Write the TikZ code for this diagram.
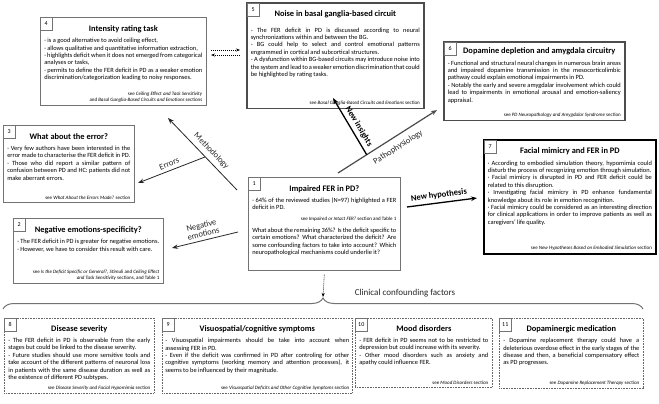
\documentclass[tikz,border=0pt]{standalone}
\usepackage{fontspec}
\setmainfont{Carlito}
\usetikzlibrary{arrows.meta,calc,decorations.pathreplacing}
\hyphenpenalty=10000
\tolerance=9999
\emergencystretch=4pt
%% Title of a box, then the body font.
\newcommand{\boxHead}[2][5pt]{\vspace*{#1}{\centering\fontsize{8.4}{9.5}\selectfont\bfseries #2\par}\vspace{4pt}\fontsize{6.4}{7.4}\selectfont}
%% Reference line at the bottom of a box.
\newcommand{\boxSee}[1]{\par\vfill{\raggedleft\fontsize{5}{6.2}\selectfont #1\par}}
\begin{document}
\begin{tikzpicture}[x=1pt,y=-1pt,%%
  boxStyle/.style={draw=black!55,fill=white,inner xsep=4pt,inner ysep=3pt,line width=0.6pt},%%
  thickBoxStyle/.style={boxStyle,draw=black!70,line width=1.6pt},%%
  mainBoxStyle/.style={boxStyle,draw=black,line width=1.8pt},%%
  dotBoxStyle/.style={boxStyle,draw=black!60,dash pattern=on 0.8pt off 0.8pt},%%
  numStyle/.style={draw=black!55,fill=white,line width=0.5pt,minimum width=12pt,minimum height=13pt,inner sep=1pt,font=\fontsize{6}{7}\selectfont},%%
  arrowStyle/.style={-{Stealth[length=6pt,width=4.5pt]},line width=0.8pt,draw=black!85},%%
  boldArrowStyle/.style={arrowStyle,line width=1.3pt,draw=black},%%
  dashArrowStyle/.style={-{Stealth[length=4pt,width=3pt]},dash pattern=on 1pt off 1pt,line width=0.6pt},%%
  labelStyle/.style={sloped,text=black!85,font=\fontsize{8.5}{9}\selectfont},%%
  boldLabelStyle/.style={sloped,font=\fontsize{8.5}{9}\selectfont\bfseries},%%
  braceStyle/.style={decorate,decoration={brace,amplitude=11pt},line width=1pt,draw=black!55}%%
]
\useasboundingbox (0,0) rectangle (659,404);
%%
%% Box 4: intensity rating task.
\node[boxStyle,anchor=north west] (boxFour) at (40,17) {\parbox[t][81pt][s]{158pt}{%
  \boxHead{Intensity rating task}
  · is a good alternative to avoid ceiling effect,\par
  · allows qualitative and quantitative information extraction,\par
  · highlights deficit when it does not emerged from categorical analyses or tasks,\par
  · permits to define the FER deficit in PD as a weaker emotion discrimination/categorization leading to noisy responses.
  \boxSee{see \textit{Ceiling Effect and Task Sensitivity}\\ and \textit{Basal Ganglia-Based Circuits and Emotions} sections}}};
\node[numStyle,anchor=north west] (numFour) at (boxFour.north west) {4};
%%
%% Box 5: noise in basal ganglia.
\node[thickBoxStyle,anchor=north west] (boxFive) at (246,2) {\parbox[t][99pt][s]{169pt}{%
  \boxHead{Noise in basal ganglia-based circuit}
  \vspace{4pt}
  - The FER deficit in PD is discussed according to neural synchronizations within and between the BG.\par
  - BG could help to select and control emotional patterns engrammed in cortical and subcortical structures.\par
  - A dysfunction within BG-based circuits may introduce noise into the system and lead to a weaker emotion discrimination that could be highlighted by rating tasks.
  \boxSee{see \textit{Basal Ganglia-Based Circuits and Emotions} section}}};
\node[numStyle,anchor=north west] (numFive) at ([shift={(0.8pt,-0.8pt)}]boxFive.north west) {5};
%%
%% Box 6: dopamine and amygdala.
\node[thickBoxStyle,anchor=north west] (boxSix) at (443,41) {\parbox[t][72pt][s]{173pt}{%
  \boxHead[3pt]{\hspace*{10pt}Dopamine depletion and amygdala circuitry}
  - Functional and structural neural changes in numerous brain areas and impaired dopamine transmission in the mesocorticolimbic pathway could explain emotional impairments in PD.\par
  - Notably the early and severe amygdalar involvement which could lead to impairments in emotional arousal and emotion-saliency appraisal.
  \boxSee{see \textit{PD Neuropathology and Amygdalar Syndrome} section}}};
\node[numStyle,anchor=north west] (numSix) at ([shift={(0.8pt,-0.8pt)}]boxSix.north west) {6};
%%
%% Box 3: the error.
\node[boxStyle,anchor=north west] (boxThree) at (3,125) {\parbox[t][71pt][s]{123pt}{%
  \boxHead{What about the error?}
  · Very few authors have been interested in the error made to characterise the FER deficit in PD.\par
  · Those who did report a similar pattern of confusion between PD and HC: patients did not make aberrant errors.
  \boxSee{see \textit{What About the Errors Made?} section}}};
\node[numStyle,anchor=north west] (numThree) at (boxThree.north west) {3};
%%
%% Box 2: negative emotions.
\node[boxStyle,anchor=north west] (boxTwo) at (13,218) {\parbox[t][58pt][s]{142pt}{%
  \boxHead{Negative emotions-specificity?}
  · The FER deficit in PD is greater for negative emotions.\par
  · However, we have to consider this result with care.
  \boxSee{see \textit{Is the Deficit Specific or General?}, \textit{Stimuli} and \textit{Ceiling Effect\\ and Task Sensitivity} sections, and Table 1}}};
\node[numStyle,anchor=north west] (numTwo) at (boxTwo.north west) {2};
%%
%% Box 1: the central question.
\node[boxStyle,anchor=north west] (boxOne) at (248,177) {\parbox[t][87pt][s]{144pt}{%
  \boxHead{Impaired FER in PD?}
  · 64\% of the reviewed studies (N=97) highlighted a FER deficit in PD.\par
  \vspace{4pt}
  {\raggedleft\fontsize{5}{6.2}\selectfont see \textit{Impaired or Intact FER?} section and Table 1\par}
  \vspace{5pt}
  What about the remaining 36\%? Is the deficit specific to certain emotions? What characterized the deficit? Are some confounding factors to take into account? Which neuropathological mechanisms could underlie it?\par
  \vfill}};
\node[numStyle,anchor=north west] (numOne) at (boxOne.north west) {1};
%%
%% Box 7: facial mimicry.
\node[mainBoxStyle,anchor=north west] (boxSeven) at (483,139) {\parbox[t][107pt][s]{164pt}{%
  \boxHead{Facial mimicry and FER in PD}
  · According to embodied simulation theory, hypomimia could disturb the process of recognizing emotion through simulation.\par
  · Facial mimicry is disrupted in PD and FER deficit could be related to this disruption.\par
  · Investigating facial mimicry in PD enhance fundamental knowledge about its role in emotion recognition.\par
  · Facial mimicry could be considered as an interesting direction for clinical applications in order to improve patients as well as caregivers' life quality.
  \boxSee{see \textit{New Hypotheses Based on Embodied Simulation} section}}};
\node[numStyle,anchor=north west] (numSeven) at ([shift={(0.9pt,-0.9pt)}]boxSeven.north west) {7};
%%
%% The clinical confounding factors.
\node[dotBoxStyle,anchor=north west] (boxEight) at (4,318) {\parbox[t][68pt][s]{142pt}{%
  \boxHead[4pt]{Disease severity}
  - The FER deficit in PD is observable from the early stages but could be linked to the disease severity.\par
  - Future studies should use more sensitive tools and take account of the different patterns of neuronal loss in patients with the same disease duration as well as the existence of different PD subtypes.
  \boxSee{see \textit{Disease Severity and Facial Hypomimia} section}}};
\node[numStyle,anchor=north west] (numEight) at (boxEight.north west) {8};
%%
\node[dotBoxStyle,inner xsep=3pt,anchor=north west] (boxNine) at (162,318) {\parbox[t][68pt][s]{184pt}{%
  \boxHead[4pt]{Visuospatial/cognitive symptoms}
  - Visuospatial impairments should be take into account when\linebreak assessing FER in PD.\par
  - Even if the deficit was confirmed in PD after controling for other cognitive symptoms (working memory and attention processes), it seems to be influenced by their magnitude.
  \boxSee{see \textit{Visuospatial Deficits and Other Cognitive Symptoms} section}}};
\node[numStyle,anchor=north west] (numNine) at (boxNine.north west) {9};
%%
\node[dotBoxStyle,anchor=north west] (boxTen) at (355,318) {\parbox[t][63pt][s]{129pt}{%
  \boxHead[4pt]{Mood disorders}
  - FER deficit in PD seems not to be restricted to depression but could increase with its severity.\par
  - Other mood disorders such as anxiety and\linebreak apathy could influence FER.
  \boxSee{see \textit{Mood Disorders} section}}};
\node[numStyle,anchor=north west] (numTen) at (boxTen.north west) {10};
%%
\node[dotBoxStyle,anchor=north west] (boxEleven) at (499,318) {\parbox[t][63pt][s]{136pt}{%
  \boxHead[4pt]{Dopaminergic medication}
  - Dopamine replacement therapy could have a deleterious overdose effect in the early stages of the disease and then, a beneficial compensatory effect\linebreak as PD progresses.
  \boxSee{see \textit{Dopamine Replacement Therapy} section}}};
\node[numStyle,anchor=north west] (numEleven) at (boxEleven.north west) {11};
%%
%% Dotted arrows between box 4 and box 5.
\coordinate (dashRightStart) at (211,50);
\coordinate (dashRightEnd) at (240,50);
\coordinate (dashLeftStart) at (240,55);
\coordinate (dashLeftEnd) at (211,55);
\draw[dashArrowStyle] (dashRightStart) -- (dashRightEnd);
\draw[dashArrowStyle] (dashLeftStart) -- (dashLeftEnd);
%%
%% Arrows leaving the central question.
\coordinate (methStart) at (237,190);
\coordinate (methEnd) at (168,118);
\coordinate (errStart) at ($(methStart)!0.46!(methEnd)$);
\coordinate (errEnd) at (138,183);
\coordinate (negStart) at (238,232);
\coordinate (negEnd) at (172,248);
\coordinate (pathoStart) at (338,173);
\coordinate (pathoEnd) at (437,110);
\coordinate (insightStart) at ($(pathoStart)!0.29!(pathoEnd)$);
\coordinate (insightEnd) at (333,98);
\coordinate (hypoStart) at (407,207);
\coordinate (hypoEnd) at (477,198);
%%
\draw[arrowStyle] (methStart) -- node[labelStyle,above=1pt,pos=0.46] {Methodology} (methEnd);
\draw[arrowStyle] (errStart) -- node[labelStyle,above,pos=0.5] {Errors} (errEnd);
\draw[arrowStyle] (negStart) -- node[labelStyle,above,pos=0.5,align=center,font=\fontsize{8.5}{8.5}\selectfont] {Negative\\emotions} (negEnd);
\draw[arrowStyle,draw=black!70,line width=1.2pt] (pathoStart) -- node[labelStyle,below=3pt,pos=0.55] {Pathophysiology} (pathoEnd);
\draw[boldArrowStyle] (insightStart) -- node[boldLabelStyle,above,pos=0.43] {New insights} (insightEnd);
\draw[boldArrowStyle] (hypoStart) -- node[boldLabelStyle,above,pos=0.47] {New hypothesis} (hypoEnd);
%%
%% The brace over the confounding factors.
\coordinate (braceTip) at (323,297);
\draw[braceStyle] (3,309) -- (643,309);
\draw[dashArrowStyle] ([yshift=-4pt]boxOne.south) -- (braceTip);
\node[font=\fontsize{9}{10}\selectfont,text=black!85] (clinicalLabel) at (405,293) {Clinical confounding factors};
\end{tikzpicture}
\end{document}
